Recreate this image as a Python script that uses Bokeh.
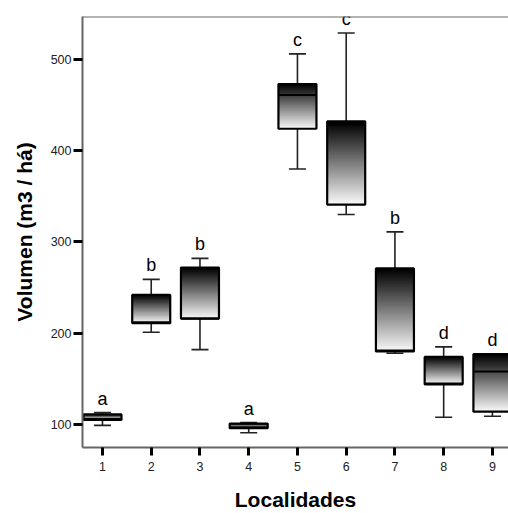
from bokeh.plotting import figure
from bokeh.models import FixedTicker, Span, ColumnDataSource
from bokeh.core.properties import value
from bokeh.embed import file_html
from bokeh.resources import INLINE

# ---- data ----
localidades = [1, 2, 3, 4, 5, 6, 7, 8, 9]
whisker_low = [99, 201, 182, 91, 380, 330, 178, 108, 109]
q1 = [105, 211, 216, 96, 424, 341, 180, 144, 114]
median = [106, 212, 216, 97, 461, 429, 181, 145, 158]
q3 = [111, 242, 272, 101, 473, 432, 271, 174, 177]
whisker_high = [113, 259, 282, 102, 506, 529, 311, 185, 177]
letters = ["a", "b", "b", "a", "c", "c", "b", "d", "d"]
tick_values = [100, 200, 300, 400, 500]

BOX_W = 0.78
CAP_W = 0.35
Y0, Y1 = 74.8, 547.0

p = figure(width=508, height=513, output_backend="svg", toolbar_location=None,
           x_range=(0.59, 9.33), y_range=(Y0, Y1),
           min_border_left=82, min_border_right=0, min_border_top=16, min_border_bottom=66)
p.outline_line_color = None
p.xgrid.grid_line_color = None
p.ygrid.grid_line_color = None
p.background_fill_color = "white"
p.border_fill_color = "white"

# gradient fill for every box: black at Q3 fading to near-white at Q1
# (stacked rectangles all reaching down to Q1, so no seams appear)
N = 60
gl, gr, gt, gb, gc = [], [], [], [], []
for x, lo, hi in zip(localidades, q1, q3):
    for k in range(N):
        top = hi - (hi - lo) * k / N
        t = k / (N - 1)
        g = int(round(t * 248))
        gl.append(x - BOX_W / 2)
        gr.append(x + BOX_W / 2)
        gt.append(top)
        gb.append(lo)
        gc.append("#%02x%02x%02x" % (g, g, g))
p.quad(left=gl, right=gr, top=gt, bottom=gb, fill_color=gc, line_color=None)

src = ColumnDataSource(dict(
    x=localidades, lo=whisker_low, q1=q1, med=median, q3=q3, hi=whisker_high,
    left=[x - BOX_W / 2 for x in localidades], right=[x + BOX_W / 2 for x in localidades],
    cl=[x - CAP_W / 2 for x in localidades], cr=[x + CAP_W / 2 for x in localidades],
    lab=letters,
))

# whiskers
p.segment(x0="x", y0="q3", x1="x", y1="hi", source=src, line_color="#222222", line_width=1.6)
p.segment(x0="x", y0="q1", x1="x", y1="lo", source=src, line_color="#222222", line_width=1.6)
p.segment(x0="cl", y0="hi", x1="cr", y1="hi", source=src, line_color="#222222", line_width=1.6)
p.segment(x0="cl", y0="lo", x1="cr", y1="lo", source=src, line_color="#222222", line_width=1.6)

# box outlines and medians
p.quad(left="left", right="right", top="q3", bottom="q1", source=src,
       fill_color=None, line_color="black", line_width=2.2)
p.segment(x0="left", y0="med", x1="right", y1="med", source=src, line_color="black", line_width=2)

# significance letters
p.text(x="x", y="hi", text="lab", source=src, text_align="center", text_baseline="alphabetic",
       y_offset=-14, text_font=value("Liberation Sans"), text_font_size="18px", text_color="black")

# top frame line
p.add_layout(Span(location=Y1, dimension="width", line_color="#666666", line_width=2))

# axes
for ax in (p.xaxis[0], p.yaxis[0]):
    ax.axis_line_color = "#666666"
    ax.axis_line_width = 2
    ax.major_tick_line_color = "black"
    ax.major_tick_line_width = 3
    ax.major_tick_in = 0
    ax.minor_tick_line_color = None
    ax.major_label_text_font = "Liberation Sans"
    ax.major_label_text_font_size = "12.5px"
    ax.major_label_text_color = "#222222"
    ax.axis_label_text_font = "Liberation Sans"
    ax.axis_label_text_font_style = "bold"
    ax.axis_label_text_font_size = "21px"
    ax.axis_label_text_color = "black"

p.xaxis.ticker = FixedTicker(ticks=localidades)
p.xaxis.major_tick_out = 8
p.xaxis.major_label_standoff = 6
p.xaxis.axis_label = "Localidades"
p.xaxis.axis_label_standoff = 14

p.yaxis.ticker = FixedTicker(ticks=tick_values)
p.yaxis.major_tick_out = 9
p.yaxis.major_label_standoff = 2
p.yaxis.axis_label = "Volumen (m3 / há)"
p.yaxis.axis_label_standoff = 12

open("out.html", "w").write(file_html(p, INLINE))
